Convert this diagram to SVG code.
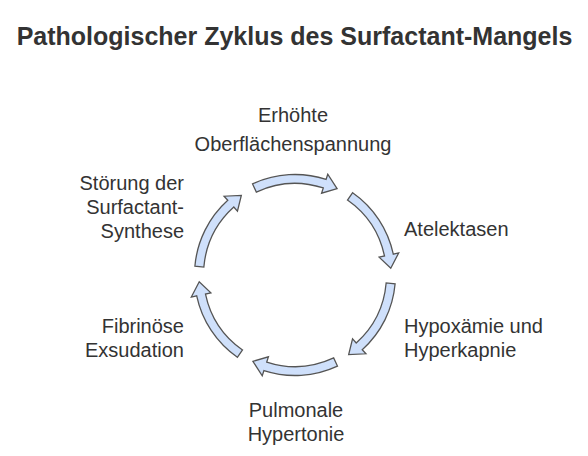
<svg xmlns="http://www.w3.org/2000/svg" xmlns:xlink="http://www.w3.org/1999/xlink" width="588" height="456" viewBox="0 0 588 456">
<style>
.title{font-family:"Liberation Sans",Arial,sans-serif;font-size:25px;font-weight:bold;fill:#333;text-anchor:middle}
.lbl{font-family:"Liberation Sans",Arial,sans-serif;font-size:20px;fill:#333}
.mid{text-anchor:middle}
.end{text-anchor:end}
.arr{fill:#cfe0fb;stroke:#555;stroke-width:1.3;stroke-linejoin:miter}
</style>
<defs>
<path id="arc" class="arr" d="M252.53,183.92 A100.5,100.5 0 0 1 326.06,179.42 L327.76,174.19 L337.08,188.72 L321.58,193.21 L323.28,187.98 A91.5,91.5 0 0 0 256.33,192.07 Z"/>
</defs>
<rect width="588" height="456" fill="#fff"/>
<text class="title" x="294.5" y="45">Pathologischer Zyklus des Surfactant-Mangels</text>
<g id="connectors">
<use xlink:href="#arc"/>
<use xlink:href="#arc" transform="rotate(60 295 275)"/>
<use xlink:href="#arc" transform="rotate(120 295 275)"/>
<use xlink:href="#arc" transform="rotate(180 295 275)"/>
<use xlink:href="#arc" transform="rotate(240 295 275)"/>
<use xlink:href="#arc" transform="rotate(300 295 275)"/>
</g>
<g id="node-oberflaechenspannung">
<text class="lbl mid" x="293" y="122">Erhöhte</text>
<text class="lbl mid" x="293" y="151">Oberflächenspannung</text>
</g>
<g id="node-atelektasen">
<text class="lbl" x="404" y="236">Atelektasen</text>
</g>
<g id="node-hypoxaemie">
<text class="lbl" x="404" y="333">Hypoxämie und</text>
<text class="lbl" x="404" y="357">Hyperkapnie</text>
</g>
<g id="node-hypertonie">
<text class="lbl mid" x="296" y="417">Pulmonale</text>
<text class="lbl mid" x="296" y="441">Hypertonie</text>
</g>
<g id="node-exsudation">
<text class="lbl end" x="184" y="333">Fibrinöse</text>
<text class="lbl end" x="184" y="357">Exsudation</text>
</g>
<g id="node-synthese">
<text class="lbl end" x="184" y="190">Störung der</text>
<text class="lbl end" x="184" y="214">Surfactant-</text>
<text class="lbl end" x="184" y="238">Synthese</text>
</g>
</svg>
